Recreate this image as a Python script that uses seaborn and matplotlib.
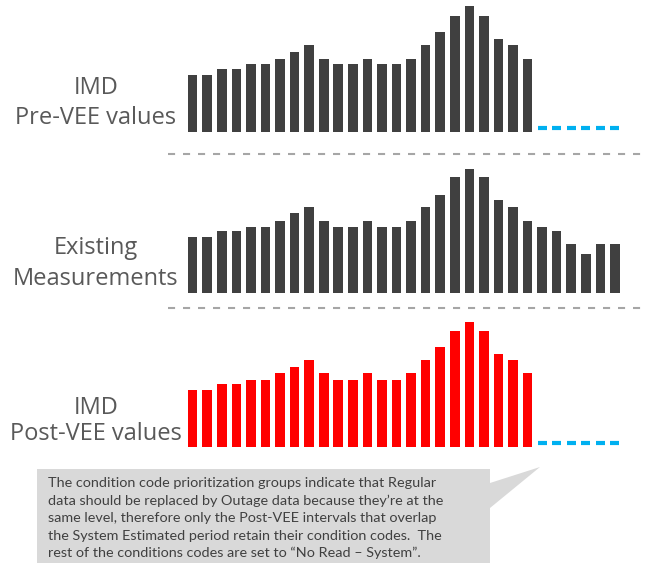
import matplotlib
matplotlib.use("Agg")
import matplotlib.pyplot as plt
import seaborn as sns
from matplotlib.patches import Polygon

# ---------------- data ----------------
intervals = list(range(1, 31))
pre_vee = [57, 57, 63, 63, 68, 68, 73, 80, 87, 73, 68, 68, 73, 68, 68, 73,
           87, 100, 116, 126, 116, 93, 87, 73]
existing = [56, 56, 62, 62, 66, 66, 72, 80, 86, 72, 66, 66, 72, 66, 66, 72,
            86, 98, 116, 124, 116, 93, 86, 72, 66, 62, 49, 39, 49, 49]
post_vee = [57, 57, 63, 63, 67, 67, 74, 80, 87, 74, 67, 67, 74, 67, 67, 74,
            87, 100, 116, 125, 116, 93, 87, 74]
row_labels = ["IMD\nPre-VEE values", "Existing\nMeasurements", "IMD\nPost-VEE values"]
callout_lines = [
    "The condition code prioritization groups indicate that Regular",
    "data should be replaced by Outage data because they\u2019re at the",
    "same level, therefore only the Post-VEE intervals that overlap",
    "the System Estimated period retain their condition codes.  The",
    "rest of the conditions codes are set to \u201cNo Read \u2013 System\u201d.",
]

# ---------------- style ----------------
sns.set_theme(style="white")
plt.rcParams["font.family"] = ["Open Sans", "DejaVu Sans"]

W, H = 653, 567
fig = plt.figure(figsize=(W / 100, H / 100), dpi=100)


def px_axes(left, top, width, height, **kw):
    return fig.add_axes([left / W, 1 - (top + height) / H, width / W, height / H], **kw)


# overlay axes in pixel coordinates for separators + callout
ov = px_axes(0, 0, W, H)
ov.set_xlim(0, W)
ov.set_ylim(H, 0)
ov.set_axis_off()

GRAY_BAR = "#404040"
RED = "#FF0000"
CYAN = "#00B0F0"

ax_left, ax_width = 185.4, 436.8
rows = [
    (pre_vee, GRAY_BAR, 132.0),
    (existing, GRAY_BAR, 292.7),
    (post_vee, RED, 446.7),
]
row_label_y = [(88, 118), (248, 279), (408, 434)]
AH = 130

for (vals, col, base), lab, (y1, y2) in zip(rows, row_labels, row_label_y):
    ax = px_axes(ax_left, base - AH, ax_width, AH)
    xs = intervals[:len(vals)]
    sns.barplot(x=xs, y=vals, order=intervals, color=col, width=0.66,
                saturation=1, ax=ax, edgecolor="none")
    missing = [i for i, v in enumerate(intervals) if v not in xs]
    if missing:
        ax.hlines([3.7] * len(missing), [m - 0.31 for m in missing],
                  [m + 0.31 for m in missing], colors=CYAN, lw=3.0,
                  capstyle="butt")
    ax.set_xlim(-0.5, len(intervals) - 0.5)
    ax.set_ylim(0, AH)
    ax.set_axis_off()
    l1, l2 = lab.split("\n")
    ov.text(96, y1, l1, ha="center", va="center", fontsize=17, color="#595959")
    ov.text(96, y2, l2, ha="center", va="center", fontsize=17, color="#595959")

# dashed separators
for y in (154.0, 307.7):
    ov.plot([168, 647], [y, y], color="#A6A6A6", lw=1.5, dashes=(3.4, 3.8))

# callout
poly = Polygon([(37, 469), (490, 469), (490, 483), (540, 467), (490, 508),
                (490, 563), (37, 563)], closed=True, facecolor="#D9D9D9",
               edgecolor="none")
ov.add_patch(poly)
for i, line in enumerate(callout_lines):
    ov.text(48, 483 + i * 17.5, line, ha="left", va="center", fontsize=10.4,
            color="#404040", family=["Lato", "DejaVu Sans"])

fig.savefig("out.png", dpi=100)
